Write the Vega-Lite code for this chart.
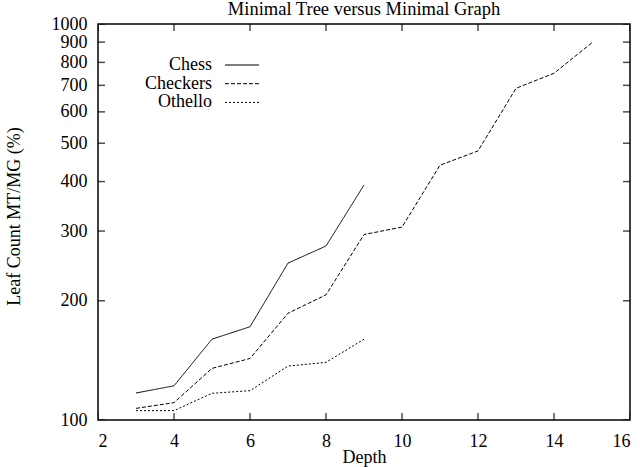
{
  "$schema": "https://vega.github.io/schema/vega-lite/v6.json",
  "width": 532,
  "height": 396,
  "autosize": "none",
  "padding": {"left": 98, "top": 24, "right": 10, "bottom": 47},
  "background": "white",
  "config": {
    "view": {"stroke": "black", "strokeWidth": 1.5},
    "font": "Liberation Serif",
    "axis": {"grid": false, "domain": false, "ticks": false, "labelColor": "black", "titleColor": "black", "labelFont": "Liberation Serif", "titleFont": "Liberation Serif", "labelFontSize": 18, "titleFontSize": 18, "titleFontWeight": "normal"}
  },
  "title": {"text": "Minimal Tree versus Minimal Graph", "font": "Liberation Serif", "fontSize": 18.5, "fontWeight": "normal", "color": "black", "offset": -3},
  "datasets": {
    "games": [
      {"depth": 3, "count": 117, "game": "Chess"},
      {"depth": 4, "count": 122, "game": "Chess"},
      {"depth": 5, "count": 160, "game": "Chess"},
      {"depth": 6, "count": 172, "game": "Chess"},
      {"depth": 7, "count": 249, "game": "Chess"},
      {"depth": 8, "count": 275, "game": "Chess"},
      {"depth": 9, "count": 392, "game": "Chess"},
      {"depth": 3, "count": 107, "game": "Checkers"},
      {"depth": 4, "count": 110.6, "game": "Checkers"},
      {"depth": 5, "count": 135, "game": "Checkers"},
      {"depth": 6, "count": 143, "game": "Checkers"},
      {"depth": 7, "count": 186, "game": "Checkers"},
      {"depth": 8, "count": 207, "game": "Checkers"},
      {"depth": 9, "count": 294, "game": "Checkers"},
      {"depth": 10, "count": 307, "game": "Checkers"},
      {"depth": 11, "count": 440, "game": "Checkers"},
      {"depth": 12, "count": 478, "game": "Checkers"},
      {"depth": 13, "count": 688, "game": "Checkers"},
      {"depth": 14, "count": 751, "game": "Checkers"},
      {"depth": 15, "count": 897, "game": "Checkers"},
      {"depth": 3, "count": 105.6, "game": "Othello"},
      {"depth": 4, "count": 105.6, "game": "Othello"},
      {"depth": 5, "count": 116.8, "game": "Othello"},
      {"depth": 6, "count": 118.6, "game": "Othello"},
      {"depth": 7, "count": 136.8, "game": "Othello"},
      {"depth": 8, "count": 139.8, "game": "Othello"},
      {"depth": 9, "count": 160, "game": "Othello"}
    ],
    "xticks": [{"depth": 2}, {"depth": 4}, {"depth": 6}, {"depth": 8}, {"depth": 10}, {"depth": 12}, {"depth": 14}, {"depth": 16}],
    "yticks": [{"count": 100}, {"count": 200}, {"count": 300}, {"count": 400}, {"count": 500}, {"count": 600}, {"count": 700}, {"count": 800}, {"count": 900}, {"count": 1000}]
  },
  "layer": [
    {
      "data": {"name": "games"},
      "mark": {"type": "line", "color": "black", "strokeWidth": 1},
      "encoding": {
        "x": {"field": "depth", "type": "quantitative", "scale": {"domain": [2, 16], "nice": false, "zero": false},
              "axis": {"orient": "bottom", "values": [2,4,6,8,10,12,14,16], "labelPadding": 12, "title": "Depth", "titleY": 42, "titleBaseline": "alphabetic"}},
        "y": {"field": "count", "type": "quantitative", "scale": {"type": "log", "domain": [100, 1000], "nice": false},
              "axis": {"orient": "left", "values": [100,200,300,400,500,600,700,800,900,1000], "format": "d", "labelPadding": 11, "title": "Leaf Count MT/MG (%)", "titleAngle": -90, "titleX": -84, "titleY": 192, "titleAlign": "center", "titleBaseline": "middle"}},
        "strokeDash": {"field": "game", "type": "nominal",
              "scale": {"domain": ["Chess", "Checkers", "Othello"], "range": [[1, 0], [4, 2], [2, 2]]},
              "legend": {"orient": "none", "legendX": 135, "legendY": 32, "title": null, "labelFont": "Liberation Serif", "labelFontSize": 18, "labelColor": "black", "labelAlign": "right", "labelOffset": -39, "symbolType": "M-2,0H2", "symbolSize": 289, "symbolStrokeColor": "black", "symbolStrokeWidth": 1, "rowPadding": 0.7}}
      }
    },
    {
      "data": {"name": "xticks"},
      "mark": {"type": "tick", "orient": "vertical", "color": "black", "size": 14, "thickness": 1.5, "clip": true},
      "encoding": {"x": {"field": "depth", "type": "quantitative"}, "y": {"datum": 100}}
    },
    {
      "data": {"name": "xticks"},
      "mark": {"type": "tick", "orient": "vertical", "color": "black", "size": 14, "thickness": 1.5, "clip": true},
      "encoding": {"x": {"field": "depth", "type": "quantitative"}, "y": {"datum": 1000}}
    },
    {
      "data": {"name": "yticks"},
      "mark": {"type": "tick", "orient": "horizontal", "color": "black", "size": 14, "thickness": 1.5, "clip": true},
      "encoding": {"y": {"field": "count", "type": "quantitative"}, "x": {"datum": 2}}
    },
    {
      "data": {"name": "yticks"},
      "mark": {"type": "tick", "orient": "horizontal", "color": "black", "size": 14, "thickness": 1.5, "clip": true},
      "encoding": {"y": {"field": "count", "type": "quantitative"}, "x": {"datum": 16}}
    }
  ]
}
